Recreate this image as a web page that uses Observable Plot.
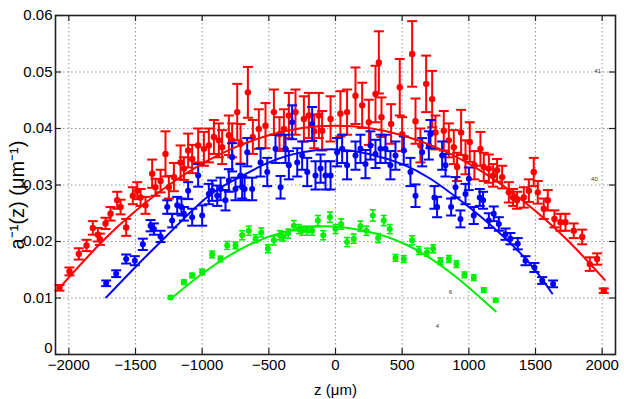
<!DOCTYPE html>
<html>
<head>
<meta charset="utf-8">
<script src="https://cdn.jsdelivr.net/npm/d3@7"></script>
<script src="https://cdn.jsdelivr.net/npm/@observablehq/plot@0.6"></script>
<style>
  html, body { margin: 0; padding: 0; background: #fff; }
  #chart { width: 624px; height: 399px; overflow: hidden; }
</style>
</head>
<body>
<div id="chart"></div>
<script>
// ---- tick labels ----
const xTicks = [-2000, -1500, -1000, -500, 0, 500, 1000, 1500, 2000];
const yTicks = [0, 0.01, 0.02, 0.03, 0.04, 0.05, 0.06];

// ---- red series ----
const redZ = [-2070,-1995,-1925,-1867,-1820,-1782,-1767,-1725,-1687,-1637,-1612,-1570,-1520,-1487,-1462,-1425,-1375,-1350,-1312,-1275,-1250,-1212,-1162,-1137,-1105,-1075,-1030,-987,-950,-912,-875,-850,-800,-775,-737,-712,-657,-620,-575,-525,-462,-420,-387,-350,-300,-237,-200,-160,-125,-100,-37,37,87,150,200,250,300,325,345,417,482,500,575,600,637,680,725,750,812,850,887,912,942,975,1007,1042,1087,1112,1150,1182,1212,1250,1300,1332,1362,1412,1450,1487,1517,1562,1592,1642,1687,1725,1787,1850,1907,1962,2012];
const redY = [0.0118,0.0147,0.0178,0.0193,0.0224,0.0212,0.0204,0.0232,0.0249,0.0273,0.0261,0.0225,0.0281,0.0290,0.0278,0.0264,0.0320,0.0296,0.0307,0.0355,0.0296,0.0314,0.0340,0.0329,0.0361,0.0346,0.0370,0.0364,0.0370,0.0385,0.0379,0.0367,0.0388,0.0379,0.0429,0.0373,0.0464,0.0385,0.0399,0.0405,0.0429,0.0390,0.0399,0.0423,0.0429,0.0417,0.0423,0.0395,0.0423,0.0396,0.0417,0.0426,0.0429,0.0458,0.0441,0.0411,0.0461,0.0517,0.0420,0.0408,0.0473,0.0390,0.0532,0.0413,0.0370,0.0479,0.0452,0.0393,0.0396,0.0379,0.0367,0.0332,0.0393,0.0349,0.0376,0.0335,0.0364,0.0332,0.0329,0.0317,0.0326,0.0314,0.0287,0.0278,0.0273,0.0278,0.0290,0.0323,0.0287,0.0258,0.0273,0.0240,0.0234,0.0234,0.0219,0.0208,0.0160,0.0169,0.0113];
const redErr = [0.0005,0.0007,0.0010,0.0010,0.0012,0.0012,0.0010,0.0010,0.0012,0.0015,0.0013,0.0015,0.0015,0.0015,0.0015,0.0015,0.0025,0.0015,0.0020,0.0040,0.0020,0.0025,0.0030,0.0020,0.0030,0.0025,0.0030,0.0030,0.0030,0.0030,0.0030,0.0030,0.0035,0.0030,0.0050,0.0035,0.0045,0.0030,0.0035,0.0040,0.0040,0.0030,0.0035,0.0040,0.0040,0.0040,0.0040,0.0030,0.0040,0.0035,0.0040,0.0040,0.0040,0.0050,0.0040,0.0040,0.0050,0.0055,0.0035,0.0035,0.0050,0.0030,0.0058,0.0040,0.0030,0.0050,0.0050,0.0030,0.0035,0.0030,0.0030,0.0025,0.0040,0.0030,0.0035,0.0025,0.0030,0.0025,0.0025,0.0020,0.0020,0.0020,0.0018,0.0015,0.0015,0.0018,0.0020,0.0025,0.0020,0.0018,0.0018,0.0015,0.0015,0.0015,0.0013,0.0013,0.0012,0.0010,0.0004];

// ---- blue series ----
const blueZ = [-1720,-1645,-1570,-1505,-1445,-1387,-1362,-1312,-1262,-1225,-1187,-1155,-1137,-1105,-1075,-1030,-1000,-950,-925,-887,-862,-825,-800,-775,-750,-712,-700,-682,-662,-625,-562,-512,-450,-412,-375,-350,-325,-287,-250,-212,-175,-150,-112,-75,-37,12,50,87,150,187,225,262,300,337,375,412,450,512,562,600,650,700,712,742,762,800,825,867,900,937,975,1000,1037,1082,1107,1150,1187,1225,1275,1312,1367,1425,1492,1550,1632];
const blueY = [0.0126,0.0143,0.0169,0.0166,0.0195,0.0228,0.0222,0.0209,0.0261,0.0237,0.0264,0.0261,0.0249,0.0290,0.0243,0.0317,0.0246,0.0284,0.0290,0.0281,0.0293,0.0273,0.0308,0.0349,0.0293,0.0317,0.0296,0.0293,0.0358,0.0293,0.0340,0.0323,0.0364,0.0296,0.0364,0.0335,0.0411,0.0340,0.0352,0.0323,0.0408,0.0317,0.0329,0.0317,0.0317,0.0358,0.0364,0.0335,0.0352,0.0364,0.0337,0.0370,0.0355,0.0364,0.0364,0.0335,0.0352,0.0361,0.0323,0.0281,0.0358,0.0370,0.0390,0.0278,0.0261,0.0352,0.0335,0.0261,0.0296,0.0240,0.0284,0.0311,0.0246,0.0278,0.0273,0.0237,0.0249,0.0231,0.0213,0.0205,0.0196,0.0166,0.0154,0.0131,0.0125];
const blueErr = [0.0005,0.0006,0.0008,0.0008,0.0010,0.0010,0.0010,0.0010,0.0012,0.0012,0.0015,0.0015,0.0012,0.0015,0.0015,0.0020,0.0018,0.0018,0.0018,0.0018,0.0020,0.0018,0.0020,0.0025,0.0020,0.0020,0.0020,0.0020,0.0025,0.0020,0.0025,0.0025,0.0025,0.0020,0.0025,0.0025,0.0030,0.0025,0.0025,0.0025,0.0030,0.0025,0.0025,0.0025,0.0025,0.0025,0.0025,0.0025,0.0025,0.0025,0.0025,0.0025,0.0025,0.0025,0.0025,0.0025,0.0025,0.0025,0.0025,0.0020,0.0025,0.0025,0.0025,0.0020,0.0018,0.0025,0.0020,0.0015,0.0018,0.0015,0.0018,0.0020,0.0015,0.0015,0.0015,0.0013,0.0013,0.0012,0.0010,0.0010,0.0010,0.0008,0.0008,0.0006,0.0006];

// ---- green series ----
const greenZ = [-1237,-1137,-1075,-1000,-925,-862,-812,-750,-700,-650,-600,-557,-507,-462,-417,-392,-355,-312,-275,-250,-212,-175,-132,-92,-42,0,42,87,137,187,232,280,320,362,407,450,512,575,625,687,732,787,850,907,967,1037,1112,1202];
const greenY = [0.0101,0.0128,0.0140,0.0146,0.0177,0.0169,0.0193,0.0193,0.0211,0.0219,0.0205,0.0216,0.0187,0.0202,0.0211,0.0209,0.0214,0.0228,0.0222,0.0219,0.0219,0.0219,0.0237,0.0211,0.0243,0.0222,0.0231,0.0199,0.0205,0.0227,0.0219,0.0246,0.0206,0.0237,0.0222,0.0171,0.0169,0.0202,0.0184,0.0181,0.0187,0.0165,0.0169,0.0160,0.0141,0.0136,0.0114,0.0096];
const greenErr = [0.0003,0.0004,0.0004,0.0005,0.0006,0.0005,0.0007,0.0006,0.0008,0.0008,0.0007,0.0008,0.0007,0.0008,0.0008,0.0008,0.0008,0.0009,0.0008,0.0008,0.0008,0.0008,0.0009,0.0008,0.0009,0.0008,0.0009,0.0008,0.0008,0.0009,0.0008,0.0010,0.0008,0.0009,0.0008,0.0006,0.0006,0.0008,0.0007,0.0007,0.0007,0.0006,0.0006,0.0006,0.0005,0.0005,0.0004,0.0003];

// ---- fitted curves ----
const redFitZ = [-2070,-1750,-1500,-1250,-1000,-750,-500,-250,0,250,500,750,1000,1250,1500,1750,2020];
const redFitY = [0.0118,0.0200,0.0254,0.0300,0.0338,0.0367,0.0388,0.0401,0.0405,0.0401,0.0388,0.0367,0.0338,0.0300,0.0254,0.0200,0.0132];
const blueFitZ = [-1720,-1500,-1275,-975,-750,-500,-250,0,250,500,712,962,1212,1450,1625];
const blueFitY = [0.0101,0.0155,0.0208,0.0276,0.0310,0.0340,0.0358,0.0363,0.0355,0.0337,0.0311,0.0268,0.0219,0.0163,0.0108];
const greenFitZ = [-1237,-1000,-700,-400,-66,300,600,900,1202];
const greenFitY = [0.0098,0.0143,0.0188,0.0216,0.0227,0.0214,0.0186,0.0138,0.0076];

// ---- stray tiny labels on the right ----
const noteText = ["41", "40", "6", "4"];
const noteZ = [1965, 1942, 862, 765];
const noteY = [0.0501, 0.0311, 0.0111, 0.0051];

// ---- build tables ----
const zip = (z, y, e) => z.map((v, i) => ({z: v, y: y[i], e: e ? e[i] : 0}));
const red = zip(redZ, redY, redErr);
const blue = zip(blueZ, blueY, blueErr);
const green = zip(greenZ, greenY, greenErr);
const redFit = zip(redFitZ, redFitY);
const blueFit = zip(blueFitZ, blueFitY);
const greenFit = zip(greenFitZ, greenFitY);
const notes = noteText.map((t, i) => ({t, z: noteZ[i], y: noteY[i]}));

const cap = {draw(ctx, size) { const w = Math.sqrt(size / Math.PI); ctx.moveTo(-w, 0); ctx.lineTo(w, 0); }};

function series(data, color, capR, dotR, sw) {
  return [
    Plot.ruleX(data, {x: "z", y1: d => d.y - d.e, y2: d => d.y + d.e, stroke: color, strokeWidth: sw}),
    Plot.dot(data, {x: "z", y: d => d.y + d.e, symbol: cap, r: capR, stroke: color, strokeWidth: sw, fill: "none"}),
    Plot.dot(data, {x: "z", y: d => d.y - d.e, symbol: cap, r: capR, stroke: color, strokeWidth: sw, fill: "none"}),
    Plot.dot(data, {x: "z", y: "y", r: dotR, fill: color, stroke: "none"})
  ];
}

const font = "'Liberation Sans', Arial, Helvetica, sans-serif";
const xFmt = d => d < 0 ? "\u2212" + String(-d) : String(d);
const yFmt = d => d === 0 ? "0" : d.toFixed(2);

const chart = Plot.plot({
  width: 624,
  height: 399,
  marginLeft: 55,
  marginRight: 9,
  marginTop: 15,
  marginBottom: 45,
  style: {fontFamily: font, fontSize: "15px", color: "#000", background: "#fff"},
  x: {domain: [-2100, 2100], ticks: xTicks},
  y: {domain: [0, 0.06], ticks: yTicks},
  marks: [
    Plot.gridX(xTicks, {stroke: "#999", strokeOpacity: 1, strokeDasharray: "1.5,2.5"}),
    Plot.gridY(yTicks, {stroke: "#999", strokeOpacity: 1, strokeDasharray: "1.5,2.5"}),
    ...series(red, "#ff0000", 5, 3.2, 2),
    ...series(blue, "#0000ff", 5, 3, 2),
    ...series(green, "#00ee00", 3, 3, 1.6),
    Plot.line(redFit, {x: "z", y: "y", stroke: "#ff0000", strokeWidth: 2, curve: "natural"}),
    Plot.line(blueFit, {x: "z", y: "y", stroke: "#0000ff", strokeWidth: 2, curve: "natural"}),
    Plot.line(greenFit, {x: "z", y: "y", stroke: "#00ee00", strokeWidth: 2, curve: "natural"}),
    Plot.text(notes, {x: "z", y: "y", text: "t", fontSize: 6, fill: "#333"}),
    Plot.ruleX(xTicks, {x: d => d, insetTop: 333, stroke: "#222", strokeWidth: 1.2}),
    Plot.ruleX(xTicks, {x: d => d, insetBottom: 333, stroke: "#222", strokeWidth: 1.2}),
    Plot.ruleY(yTicks, {y: d => d, insetRight: 554, stroke: "#222", strokeWidth: 1.2}),
    Plot.ruleY(yTicks, {y: d => d, insetLeft: 554, stroke: "#222", strokeWidth: 1.2}),
    Plot.frame({stroke: "#222", strokeWidth: 1.6}),
    Plot.axisX(xTicks, {tickSize: 0, tickPadding: 5, label: null, fontSize: 15, tickFormat: xFmt}),
    Plot.axisY(yTicks.filter(d => d !== 0), {tickSize: 0, tickPadding: 3, label: null, fontSize: 15, tickFormat: yFmt}),
    Plot.axisY(yTicks.filter(d => d === 0), {tickSize: 0, tickPadding: 3, label: null, fontSize: 15, dy: -6, tickFormat: yFmt}),
    Plot.text(["z (\u03BCm)"], {frameAnchor: "bottom", dy: 40, fontSize: 15, fill: "#000"}),
    Plot.text(["a\u207B\u00B9(z) (\u03BCm\u207B\u00B9)"], {frameAnchor: "left", textAnchor: "middle", rotate: -90, dx: -38, dy: 10, fontSize: 20, fill: "#000"})
  ]
});
document.getElementById("chart").appendChild(chart);
</script>
</body>
</html>
